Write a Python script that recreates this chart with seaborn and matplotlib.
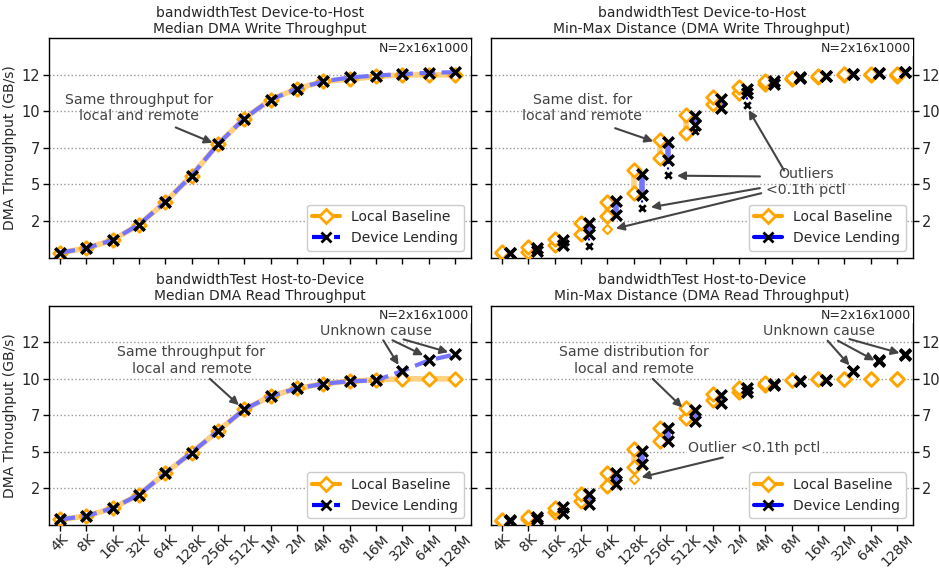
import numpy as np
import pandas as pd
import matplotlib
matplotlib.use("Agg")
import matplotlib.pyplot as plt
from matplotlib.lines import Line2D
import seaborn as sns

# ==============================
# 1. Data (GB/s)
# ==============================
sizes = ["4K", "8K", "16K", "32K", "64K", "128K", "256K", "512K",
         "1M", "2M", "4M", "8M", "16M", "32M", "64M", "128M"]

ytick_vals = [2.5, 5.0, 7.5, 10.0, 12.5]
ytick_labels = ["2", "5", "7", "10", "12"]

# Device-to-Host (DMA write), medians
write_local_med = [0.33, 0.64, 1.19, 2.25, 3.79, 5.60, 7.75, 9.51,
                   10.80, 11.55, 12.05, 12.20, 12.39, 12.50, 12.50, 12.50]
write_device_med = [0.33, 0.64, 1.19, 2.25, 3.79, 5.60, 7.75, 9.51,
                    10.80, 11.55, 12.05, 12.32, 12.45, 12.55, 12.64, 12.68]

# Host-to-Device (DMA read), medians
read_local_med = [0.38, 0.61, 1.15, 2.07, 3.54, 4.95, 6.42, 7.91,
                  8.81, 9.35, 9.66, 9.84, 9.93, 10.00, 10.00, 10.00]
read_device_med = [0.38, 0.61, 1.15, 2.07, 3.54, 4.95, 6.42, 7.91,
                   8.81, 9.35, 9.66, 9.84, 9.89, 10.54, 11.26, 11.67]

# Device-to-Host min / max (0.1th - 99.9th pctl)
write_local_lo = [0.30, 0.40, 0.89, 1.64, 2.84, 4.40, 6.78, 8.50,
                  10.53, 11.28, 11.87, 12.20, 12.38, 12.52, 12.52, 12.41]
write_local_hi = [0.35, 0.74, 1.28, 2.36, 3.83, 6.01, 8.02, 9.74,
                  10.98, 11.64, 12.09, 12.27, 12.41, 12.55, 12.55, 12.55]
write_device_lo = [0.28, 0.47, 0.85, 1.64, 2.88, 4.31, 6.69, 9.10,
                   10.24, 11.25, 11.87, 12.28, 12.43, 12.57, 12.62, 12.66]
write_device_hi = [0.30, 0.62, 1.23, 2.36, 3.86, 5.71, 7.93, 9.67,
                   10.87, 11.55, 12.05, 12.32, 12.45, 12.59, 12.64, 12.68]
# outliers below the 0.1th pctl (size index, value)
write_device_out_idx = [3, 5, 6, 7, 9]
write_device_out_val = [0.78, 3.40, 5.62, 8.65, 10.46]
write_local_out_idx = [4]
write_local_out_val = [1.93]

# Host-to-Device min / max
read_local_lo = [0.27, 0.38, 0.88, 1.64, 2.70, 3.99, 5.74, 7.32,
                 8.56, 9.12, 9.57, 9.89, 9.96, 10.00, 10.00, 10.00]
read_local_hi = [0.31, 0.56, 1.17, 2.09, 3.54, 5.18, 6.64, 8.00,
                 8.99, 9.39, 9.73, 9.93, 9.99, 10.01, 10.01, 10.01]
read_device_lo = [0.27, 0.43, 0.79, 1.46, 2.82, 4.17, 5.74, 7.09,
                  8.38, 9.08, 9.58, 9.82, 9.91, 10.52, 11.24, 11.65]
read_device_hi = [0.31, 0.56, 1.24, 2.09, 3.56, 5.07, 6.64, 7.88,
                  8.90, 9.35, 9.66, 9.86, 9.95, 10.56, 11.28, 11.69]
read_local_out_idx = [5]
read_local_out_val = [3.15]

ORANGE = "#FFA500"
LIGHT_ORANGE = "#FFD080"
BLUE = "#0000FF"
LIGHT_BLUE = "#7474FF"
ANN = "#444444"

# ==============================
# 2. Figure setup
# ==============================
sns.set_style("white")
plt.rcParams["font.family"] = ["DejaVu Sans"]
plt.rcParams["font.size"] = 10

fig, axes = plt.subplots(2, 2, figsize=(9.39, 5.69), dpi=100, sharex=True, sharey=True)
fig.subplots_adjust(left=0.0525, right=0.972, top=0.9327, bottom=0.0773,
                    wspace=0.049, hspace=0.22)

x = np.arange(len(sizes))
dx = 0.32  # offset for device markers in the min-max panels
S_D, S_X = 48, 58


def median_panel(ax, local, device):
    sns.lineplot(x=x, y=local, ax=ax, color=LIGHT_ORANGE, lw=4)
    sns.scatterplot(x=x, y=local, ax=ax, marker="D", s=S_D, facecolor="white",
                    edgecolor=ORANGE, linewidth=2, zorder=3)
    sns.lineplot(x=x, y=device, ax=ax, color=LIGHT_BLUE, lw=3,
                 linestyle="--", zorder=4)
    sns.scatterplot(x=x, y=device, ax=ax, marker="x", s=S_X, color="black",
                    linewidth=2.5, zorder=5)


def minmax_panel(ax, llo, lhi, dlo, dhi, dout_i=(), dout_v=(), lout_i=(), lout_v=()):
    ax.vlines(x, llo, lhi, color=LIGHT_ORANGE, lw=4, zorder=2)
    ax.vlines(x + dx, dlo, dhi, color=LIGHT_BLUE, lw=4, zorder=2)
    dout_i = np.array(dout_i, dtype=int)
    if len(dout_i):
        ax.vlines(dout_i + dx, np.array(dout_v), np.array(dlo)[dout_i],
                  color=BLUE, lw=1.5, linestyles=":", zorder=2)
        sns.scatterplot(x=dout_i + dx, y=dout_v, ax=ax, marker="x", s=22,
                        color="black", linewidth=2, zorder=5)
    if len(lout_i):
        sns.scatterplot(x=np.array(lout_i), y=lout_v, ax=ax, marker="D", s=22,
                        facecolor="white", edgecolor=ORANGE, linewidth=1.5, zorder=3)
    for vals in (llo, lhi):
        sns.scatterplot(x=x, y=vals, ax=ax, marker="D", s=S_D, facecolor="white",
                        edgecolor=ORANGE, linewidth=2, zorder=3)
    for vals in (dlo, dhi):
        sns.scatterplot(x=x + dx, y=vals, ax=ax, marker="x", s=S_X, color="black",
                        linewidth=2.5, zorder=5)


def arrow(ax, tip, start):
    ax.annotate("", xy=tip, xytext=start,
                arrowprops=dict(arrowstyle="-|>", color=ANN, lw=1.5,
                                mutation_scale=12, shrinkA=0, shrinkB=0))


median_panel(axes[0, 0], write_local_med, write_device_med)
median_panel(axes[1, 0], read_local_med, read_device_med)
minmax_panel(axes[0, 1], write_local_lo, write_local_hi, write_device_lo, write_device_hi,
             write_device_out_idx, write_device_out_val,
             write_local_out_idx, write_local_out_val)
minmax_panel(axes[1, 1], read_local_lo, read_local_hi, read_device_lo, read_device_hi,
             lout_i=read_local_out_idx, lout_v=read_local_out_val)

titles = [["bandwidthTest Device-to-Host\nMedian DMA Write Throughput",
           "bandwidthTest Device-to-Host\nMin-Max Distance (DMA Write Throughput)"],
          ["bandwidthTest Host-to-Device\nMedian DMA Read Throughput",
           "bandwidthTest Host-to-Device\nMin-Max Distance (DMA Read Throughput)"]]

legend_med = [Line2D([], [], color=ORANGE, lw=3, marker="D", ms=7, mfc="white",
                     mec=ORANGE, mew=2, label="Local Baseline"),
              Line2D([], [], color=BLUE, lw=3, ls="--", marker="x", ms=7, mec="black",
                     mew=2, label="Device Lending")]
legend_mm = [Line2D([], [], color=ORANGE, lw=3, marker="D", ms=7, mfc="white",
                    mec=ORANGE, mew=2, label="Local Baseline"),
             Line2D([], [], color=BLUE, lw=3, marker="x", ms=7, mec="black",
                    mew=2, label="Device Lending")]

for r in range(2):
    for c in range(2):
        ax = axes[r, c]
        ax.set_xlim(-0.4, 15.6)
        ax.set_ylim(0, 15)
        ax.set_yticks(ytick_vals)
        ax.set_yticklabels(ytick_labels)
        ax.set_xticks(x)
        ax.set_xticklabels(sizes, rotation=45)
        ax.yaxis.grid(True, linestyle=":", color="#999999", lw=1)
        ax.tick_params(axis="both", which="both", direction="out", length=4,
                       width=1, color="black", labelsize=10.5, pad=2.5)
        ax.tick_params(axis="x", labelsize=10, pad=1)
        ax.tick_params(axis="y", left=True, right=True)
        ax.tick_params(axis="x", bottom=True)
        for sp in ax.spines.values():
            sp.set_color("black")
            sp.set_linewidth(1)
        ax.set_title(titles[r][c], fontsize=10, pad=4)
        ax.text(0.997, 0.985, "N=2x16x1000", transform=ax.transAxes, ha="right",
                va="top", fontsize=9,
                bbox=dict(facecolor="white", edgecolor="none", pad=1))
        ax.legend(handles=legend_med if c == 0 else legend_mm, loc="lower right",
                  fontsize=10, framealpha=1, edgecolor="#cccccc")
        if c == 0:
            ax.set_ylabel("DMA Throughput (GB/s)", fontsize=10, labelpad=3)
        else:
            ax.tick_params(axis="y", labelleft=False, labelright=True)
        if r == 0:
            ax.tick_params(axis="x", labelbottom=False)

# ==============================
# 3. Annotations
# ==============================
FS = 10.2
ax = axes[0, 0]
ax.text(3.0, 10.25, "Same throughput for\nlocal and remote", ha="center", va="center",
        color=ANN, fontsize=FS)
arrow(ax, (5.8, 7.85), (4.4, 8.9))

ax = axes[0, 1]
ax.text(3.06, 10.25, "Same dist. for\nlocal and remote", ha="center", va="center",
        color=ANN, fontsize=FS)
arrow(ax, (5.75, 7.95), (4.3, 8.85))
ax.text(11.55, 5.15, "Outliers\n<0.1th pctl", ha="center", va="center",
        color=ANN, fontsize=FS)
arrow(ax, (9.37, 10.1), (10.72, 5.95))
arrow(ax, (6.65, 5.6), (9.8, 5.55))
arrow(ax, (5.66, 3.44), (9.8, 4.75))
arrow(ax, (4.33, 1.99), (9.85, 4.4))

ax = axes[1, 0]
ax.text(5.0, 11.25, "Same throughput for\nlocal and remote", ha="center", va="center",
        color=ANN, fontsize=FS)
arrow(ax, (6.8, 8.2), (5.7, 10.0))
ax.text(12.0, 13.3, "Unknown cause", ha="center", va="center", color=ANN, fontsize=FS)
arrow(ax, (12.86, 10.95), (12.28, 12.64))
arrow(ax, (13.8, 11.62), (12.63, 12.64))
arrow(ax, (14.75, 11.82), (13.05, 12.7))

ax = axes[1, 1]
ax.text(5.0, 11.25, "Same distribution for\nlocal and remote", ha="center", va="center",
        color=ANN, fontsize=FS)
arrow(ax, (6.85, 8.05), (5.73, 10.0))
ax.text(9.58, 5.3, "Outlier <0.1th pctl", ha="center", va="center", color=ANN,
        fontsize=FS, bbox=dict(facecolor="white", edgecolor="none", pad=0.5))
arrow(ax, (5.3, 3.27), (8.39, 4.62))
ax.text(12.05, 13.3, "Unknown cause", ha="center", va="center", color=ANN, fontsize=FS)
arrow(ax, (13.2, 10.92), (12.37, 12.61))
arrow(ax, (14.15, 11.26), (12.76, 12.61))
arrow(ax, (15.1, 11.76), (13.2, 12.72))

fig.savefig("out.png", dpi=100)
plt.close(fig)
